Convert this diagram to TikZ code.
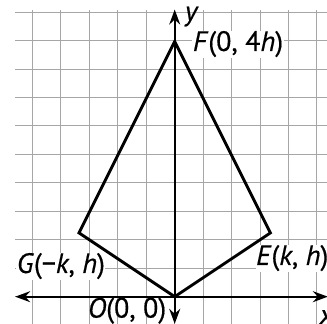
\documentclass[tikz,border=0pt]{standalone}
\usepackage{fontspec}
\setmainfont{PT Sans}[UprightFeatures={FakeBold=0.5},ItalicFeatures={FakeBold=0.5}]
\usetikzlibrary{arrows.meta}
\tikzset{
  gridline/.style={gray!70, line width=1pt},
  axis/.style={black, line width=1.8pt, -{Stealth[length=15pt,width=11pt,inset=5pt]}},
  kite/.style={black, line width=2.9pt, line join=miter},
  lbl/.style={fill=white, inner sep=0.5pt, font=\fontsize{28}{31}\selectfont},
}
\begin{document}
\begin{tikzpicture}[x=31.9pt,y=31.9pt]
\useasboundingbox (-5.477,-0.856) rectangle (4.774,9.301);
\clip (-5.477,-0.856) rectangle (4.774,9.301);
% grid
\draw[gridline] (-5,-1) grid (5,9);
% kite points
\coordinate (O) at (0,0);
\coordinate (E) at (3,2);
\coordinate (F) at (0,8);
\coordinate (G) at (-3,2);
\coordinate (xl) at (-5,0);
\coordinate (xr) at (4.80,0);
\coordinate (yb) at (0,-0.85);
\coordinate (yt) at (0,9.0);
% axes
\draw[axis] (O) -- (xl);
\draw[axis] (O) -- (xr);
\draw[axis] (O) -- (yb);
\draw[axis] (O) -- (yt);
% kite
\draw[kite] (O) -- (E) -- (F) -- (G) -- cycle;
% labels
\node[lbl, anchor=west] (Fl) at (0.55,7.92) {\textit{F}(0, 4\textit{h})};
\node[lbl, anchor=west] (Gl) at (-4.97,0.96) {\textit{G}(−\textit{k}, \textit{h})};
\node[lbl, anchor=west] (El) at (2.53,1.21) {\textit{E}(\textit{k}, \textit{h})};
\node[lbl, anchor=east, fill=none, inner sep=0pt] (Ol) at (-0.26,-0.44) {\textit{O}(0, 0)};
\node[lbl, fill=none, anchor=west] (yl) at (0.30,8.78) {\textit{y}};
\node[lbl, fill=none, anchor=west] (xlab) at (4.52,-0.64) {\textit{x}};
\end{tikzpicture}
\end{document}
